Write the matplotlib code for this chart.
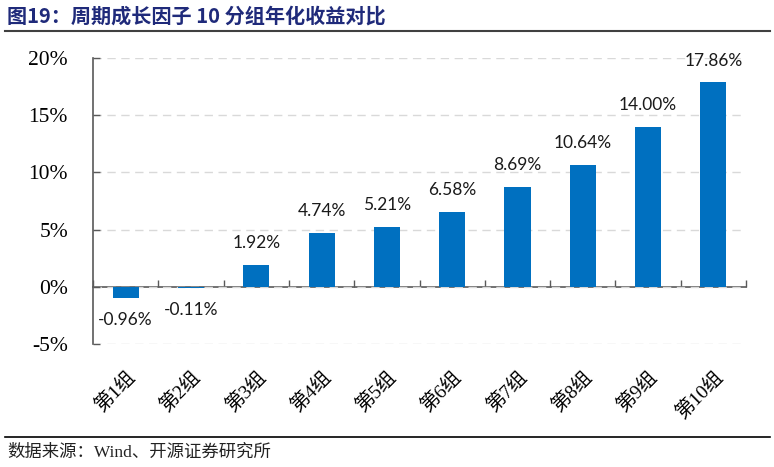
import matplotlib
matplotlib.use('Agg')
from matplotlib import pyplot as plt
import numpy as np

groups = ['第1组', '第2组', '第3组', '第4组', '第5组',
          '第6组', '第7组', '第8组', '第9组', '第10组']
annual_return = [-0.96, -0.11, 1.92, 4.74, 5.21, 6.58, 8.69, 10.64, 14.00, 17.86]
y_ticks = [-5, 0, 5, 10, 15, 20]

title = '图19：周期成长因子 10 分组年化收益对比'
source = '数据来源：Wind、开源证券研究所'

serif_mix = ['Liberation Serif', 'Noto Sans CJK SC']
bar_color = '#0070C0'


def plot_groups():
    fig = plt.figure(figsize=(7.74, 4.67), dpi=100)
    ax = fig.add_axes([0.1202, 0.2634, 0.8436, 0.6124])

    x = np.arange(len(groups))
    ax.bar(x, annual_return, width=0.4, color=bar_color, zorder=3)

    for xi, v in zip(x, annual_return):
        off = 10 if v >= 0 else -10
        ax.annotate('%.2f%%' % v, (xi, v), xytext=(0, off),
                    textcoords='offset points', ha='center',
                    va='bottom' if v >= 0 else 'top',
                    fontsize=12.5, family='Lato', color='#1a1a1a')

    ax.set_xlim(-0.5, len(groups) - 0.5)
    ax.set_ylim(-5, 20)
    ax.set_yticks(y_ticks)
    ax.set_yticklabels(['%d%%' % t for t in y_ticks], family='Liberation Serif',
                       fontsize=15.5)
    ax.tick_params(axis='y', direction='in', length=5, pad=18,
                   color='#595959', width=1)
    ax.grid(axis='y', linestyle=(0, (6, 4)), color='#D9D9D9', linewidth=1,
            zorder=0)

    ax.set_xticks(x)
    ax.set_xticklabels(groups, family=serif_mix, fontsize=14, rotation=45,
                       ha='right', va='top', rotation_mode='anchor')
    ax.tick_params(axis='x', length=0, pad=17)

    for side in ['top', 'right', 'bottom']:
        ax.spines[side].set_visible(False)
    ax.spines['left'].set_color('#595959')
    ax.spines['left'].set_linewidth(1.2)

    # zero line with tick marks between groups
    zero_ax = ax.secondary_xaxis(5 / 25)
    zero_ax.set_xticks(np.arange(-0.5, len(groups), 1.0))
    zero_ax.set_xticklabels([])
    zero_ax.tick_params(direction='in', length=5, color='#595959', width=1)
    zero_ax.spines['bottom'].set_color('#595959')
    zero_ax.spines['bottom'].set_linewidth(1.2)

    fig.text(0.009, 0.966, title, family='Noto Sans CJK SC', fontweight='bold',
             fontsize=14.5, color='#1F2A7A', va='center')
    fig.add_artist(plt.Line2D([0.006, 0.995], [0.934, 0.934], color='#404040',
                              linewidth=1.5, transform=fig.transFigure))
    fig.add_artist(plt.Line2D([0.006, 0.995], [0.064, 0.064], color='black',
                              linewidth=1.2, transform=fig.transFigure))
    fig.text(0.009, 0.031, source, family=serif_mix, fontsize=12.5,
             color='#222222', va='center')

    fig.savefig('out.png', dpi=100)


if __name__ == '__main__':
    plot_groups()
